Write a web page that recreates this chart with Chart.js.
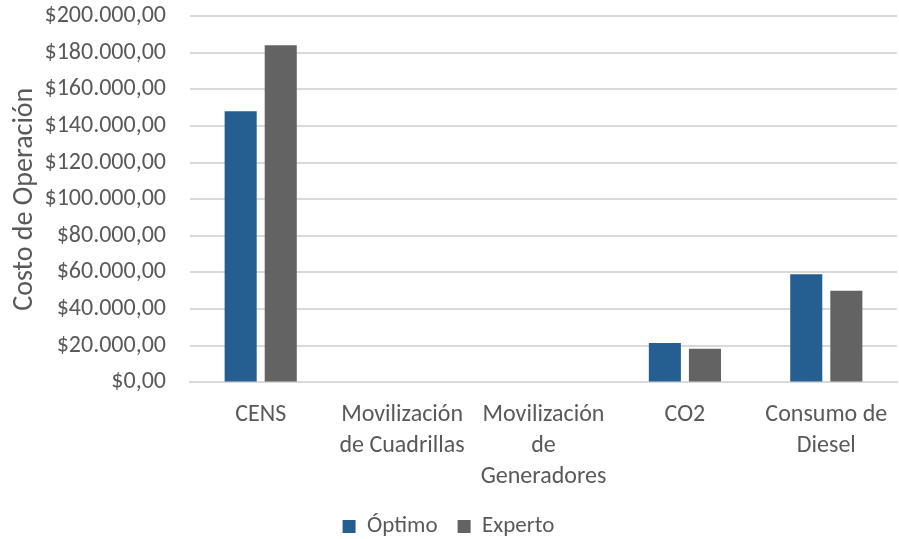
<!DOCTYPE html>
<html>
<head>
<meta charset="utf-8">
<script src="https://cdn.jsdelivr.net/npm/chart.js@4/dist/chart.umd.min.js"></script>
<style>
  html, body { margin: 0; padding: 0; background: #fff; }
  #wrap { width: 899px; height: 539px; }
</style>
</head>
<body>
<div id="wrap"><canvas id="costChart" width="899" height="539"></canvas></div>
<script>
const categories = [
  'CENS',
  ['Movilización', 'de Cuadrillas'],
  ['Movilización', 'de', 'Generadores'],
  'CO2',
  ['Consumo de', 'Diesel']
];
const optimoValues = [148000, 0, 0, 21500, 59000];
const expertoValues = [184000, 0, 0, 18300, 50000];
const yTicks = [0, 20000, 40000, 60000, 80000, 100000, 120000, 140000, 160000, 180000, 200000];

const textColor = '#595959';
const fontFamily = 'Calibri, Carlito, "Open Sans", "Liberation Sans", sans-serif';

// $200.000,00 style
function formatPesos(v) {
  const s = Math.round(v).toString().replace(/\B(?=(\d{3})+(?!\d))/g, '.');
  return '$' + s + ',00';
}

const ctx = document.getElementById('costChart').getContext('2d');
new Chart(ctx, {
  type: 'bar',
  data: {
    labels: categories,
    datasets: [
      {
        label: 'Óptimo',
        data: optimoValues,
        backgroundColor: '#255E91',
        categoryPercentage: 0.567,
        barPercentage: 0.8
      },
      {
        label: 'Experto',
        data: expertoValues,
        backgroundColor: '#636363',
        categoryPercentage: 0.567,
        barPercentage: 0.8
      }
    ]
  },
  options: {
    responsive: false,
    animation: false,
    layout: { padding: { top: 16, right: 2, left: 0, bottom: -9 } },
    plugins: {
      tooltip: { enabled: false },
      legend: {
        position: 'bottom',
        labels: {
          color: textColor,
          boxWidth: 13,
          boxHeight: 13,
          padding: 20,
          font: { family: fontFamily, size: 23 }
        }
      }
    },
    scales: {
      x: {
        grid: { display: false, drawTicks: false },
        border: { color: '#d9d9d9', width: 2 },
        ticks: {
          color: textColor,
          padding: 17,
          maxRotation: 0,
          autoSkip: false,
          font: { family: fontFamily, size: 24, lineHeight: 1.3 }
        },
        afterFit: axis => {
          axis.height -= 15;
          axis.paddingLeft = 0;
          axis.paddingRight = 0;
        }
      },
      y: {
        min: 0,
        max: 200000,
        afterBuildTicks: axis => { axis.ticks = yTicks.map(v => ({ value: v })); },
        grid: { color: '#d9d9d9', lineWidth: 2, drawTicks: false },
        border: { display: false },
        ticks: {
          color: textColor,
          padding: 24,
          font: { family: fontFamily, size: 24 },
          callback: v => formatPesos(v)
        },
        title: {
          display: true,
          text: 'Costo de Operación',
          color: textColor,
          padding: { top: 8, bottom: 0 },
          font: { family: fontFamily, size: 28 }
        },
        afterFit: axis => {
          axis.width = 190;
          axis.paddingTop = 0;
          axis.paddingBottom = 0;
        }
      }
    }
  }
});
</script>
</body>
</html>
